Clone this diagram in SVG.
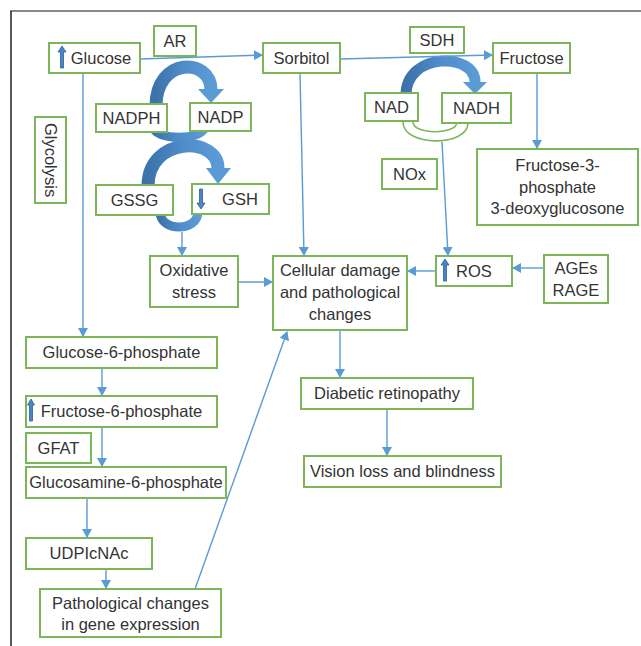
<svg xmlns="http://www.w3.org/2000/svg" width="641" height="646" viewBox="0 0 641 646">
<defs>
<style>
.box{fill:#fff;stroke:#7cb659;stroke-width:2}
.t{font-family:"Liberation Sans",Arial,sans-serif;font-size:16.5px;fill:#333;text-anchor:middle}
.c{fill:none;stroke:#5b9bd5;stroke-width:1.4}
.big{fill:none;stroke:url(#bg);stroke-width:13}
.cup{fill:none;stroke:url(#bg);stroke-width:9}
.gu{fill:none;stroke:#7cb659;stroke-width:1.6}
.head{fill:#5b9bd5}
.icon{fill:#4a86c5;stroke:#2e5f8f;stroke-width:0.8}
</style>
<linearGradient id="bg" x1="0" y1="0" x2="1" y2="0">
<stop offset="0" stop-color="#3c73aa"/>
<stop offset="0.5" stop-color="#4f8ccb"/>
<stop offset="1" stop-color="#5b9bd5"/>
</linearGradient>
<marker id="ah" markerWidth="10" markerHeight="10" refX="8" refY="5" orient="auto" markerUnits="userSpaceOnUse">
<path d="M0,0 L9,5 L0,10 z" fill="#5b9bd5"/>
</marker>
</defs>
<rect width="641" height="646" fill="#fff"/>
<!-- frame -->
<line x1="10" y1="11" x2="641" y2="11" stroke="#888" stroke-width="2"/>
<line x1="11" y1="11" x2="11" y2="646" stroke="#222" stroke-width="1.5"/>

<!-- thick cofactor arcs -->
<g id="cofactor-arcs">
<path class="cup" d="M153,126 C153,141 205,141 205,126"/>
<path class="big" d="M156,106 C156,57 211,57 211,90"/>
<polygon points="198,89 224,89 211,103" fill="#5b9bd5"/>
<path class="big" d="M148,186 C148,136 218,136 218,168"/>
<polygon points="206,168 231,168 218,184" fill="#5b9bd5"/>
<path class="cup" d="M160,212 C160,232 198,232 198,212"/>
<path class="big" style="stroke-width:11" d="M406,95 C406,52 475,52 475,82"/>
<polygon points="463,82 487,82 475,94" fill="#5b9bd5"/>
<path class="gu" d="M403,122 C403,147 468,147 468,123"/>
<path class="gu" d="M413,122 C413,135 457,135 457,122"/>
</g>

<!-- connectors -->
<g id="connectors">
<line class="c" x1="140" y1="59" x2="262" y2="55" marker-end="url(#ah)"/>
<line class="c" x1="340" y1="59" x2="492" y2="55" marker-end="url(#ah)"/>
<line class="c" x1="83" y1="73" x2="83" y2="336" marker-end="url(#ah)"/>
<line class="c" x1="300" y1="73" x2="304" y2="255" marker-end="url(#ah)"/>
<line class="c" x1="537" y1="73" x2="537" y2="148" marker-end="url(#ah)"/>
<line class="c" x1="442" y1="142" x2="448" y2="255" marker-end="url(#ah)"/>
<line class="c" x1="182" y1="232" x2="182" y2="255" marker-end="url(#ah)"/>
<line class="c" x1="238" y1="282" x2="272" y2="282" marker-end="url(#ah)"/>
<line class="c" x1="436" y1="271" x2="408" y2="271" marker-end="url(#ah)"/>
<line class="c" x1="544" y1="268" x2="513" y2="268" marker-end="url(#ah)"/>
<line class="c" x1="340" y1="330" x2="340" y2="377" marker-end="url(#ah)"/>
<line class="c" x1="387" y1="409" x2="387" y2="455" marker-end="url(#ah)"/>
<line class="c" x1="102" y1="368" x2="102" y2="395" marker-end="url(#ah)"/>
<line class="c" x1="102" y1="427" x2="102" y2="466" marker-end="url(#ah)"/>
<line class="c" x1="87" y1="498" x2="87" y2="537" marker-end="url(#ah)"/>
<line class="c" x1="106" y1="569" x2="106" y2="588" marker-end="url(#ah)"/>
<line class="c" x1="195" y1="589" x2="287" y2="332" marker-end="url(#ah)"/>
</g>

<!-- nodes -->
<g id="glucose"><rect class="box" x="49" y="43" width="91" height="30"/>
<path class="icon" d="M60.5,52 L58,52 L62,46 L66,52 L63.5,52 L63.5,68 L60.5,68 z"/>
<text class="t" x="101" y="64">Glucose</text></g>
<g id="ar"><rect class="box" x="154" y="26" width="42" height="30"/><text class="t" x="175" y="47">AR</text></g>
<g id="sorbitol"><rect class="box" x="263" y="43" width="77" height="30"/><text class="t" x="301.5" y="64">Sorbitol</text></g>
<g id="sdh"><rect class="box" x="410" y="27" width="54" height="26"/><text class="t" x="437" y="46">SDH</text></g>
<g id="fructose"><rect class="box" x="493" y="43" width="77" height="30"/><text class="t" x="531.5" y="64">Fructose</text></g>
<g id="nadph"><rect class="box" x="96" y="104" width="71" height="28"/><text class="t" x="131.5" y="124">NADPH</text></g>
<g id="nadp"><rect class="box" x="190" y="103" width="61" height="28"/><text class="t" x="220.5" y="123">NADP</text></g>
<g id="glycolysis"><rect class="box" x="35" y="117" width="31" height="86"/>
<text class="t" transform="translate(45,160) rotate(90)">Glycolysis</text></g>
<g id="gssg"><rect class="box" x="96" y="185" width="77" height="30"/><text class="t" x="134.5" y="206">GSSG</text></g>
<g id="gsh"><rect class="box" x="192" y="184" width="77" height="30"/>
<path class="icon" d="M199.5,189 L202.5,189 L202.5,203 L205,203 L201,209 L197,203 L199.5,203 z"/>
<text class="t" x="240" y="205">GSH</text></g>
<g id="nad"><rect class="box" x="365" y="93" width="53" height="28"/><text class="t" x="391.5" y="113">NAD</text></g>
<g id="nadh"><rect class="box" x="442" y="93" width="69" height="30"/><text class="t" x="476.5" y="114">NADH</text></g>
<g id="nox"><rect class="box" x="382" y="159" width="55" height="30"/><text class="t" x="409.5" y="180">NOx</text></g>
<g id="fructose3p"><rect class="box" x="477" y="149" width="161" height="76"/>
<text class="t" x="557.5" y="171">Fructose-3-</text>
<text class="t" x="557.5" y="192.5">phosphate</text>
<text class="t" x="557.5" y="214">3-deoxyglucosone</text></g>
<g id="oxidative"><rect class="box" x="150" y="256" width="88" height="51"/>
<text class="t" x="194" y="276">Oxidative</text>
<text class="t" x="194" y="298">stress</text></g>
<g id="cellular"><rect class="box" x="273" y="256" width="134" height="74"/>
<text class="t" x="340" y="276">Cellular damage</text>
<text class="t" x="340" y="298">and pathological</text>
<text class="t" x="340" y="320">changes</text></g>
<g id="ros"><rect class="box" x="436" y="256" width="76" height="30"/>
<path class="icon" d="M443.5,265 L441,265 L445,259 L449,265 L446.5,265 L446.5,281 L443.5,281 z"/>
<text class="t" x="474" y="277">ROS</text></g>
<g id="ages"><rect class="box" x="544" y="255" width="64" height="48"/>
<text class="t" x="576" y="274">AGEs</text>
<text class="t" x="576" y="296">RAGE</text></g>
<g id="retinopathy"><rect class="box" x="301" y="378" width="172" height="31"/><text class="t" x="387" y="399">Diabetic retinopathy</text></g>
<g id="vision"><rect class="box" x="304" y="456" width="197" height="31"/><text class="t" x="402.5" y="477">Vision loss and blindness</text></g>
<g id="g6p"><rect class="box" x="26" y="337" width="191" height="31"/><text class="t" x="121.5" y="358">Glucose-6-phosphate</text></g>
<g id="f6p"><rect class="box" x="26" y="396" width="191" height="31"/>
<path class="icon" d="M29.5,405 L27.5,405 L31,399 L34.5,405 L32.5,405 L32.5,421 L29.5,421 z"/>
<text class="t" x="121.5" y="417">Fructose-6-phosphate</text></g>
<g id="gfat"><rect class="box" x="26" y="433" width="65" height="30"/><text class="t" x="58.5" y="454">GFAT</text></g>
<g id="glucosamine"><rect class="box" x="26" y="467" width="200" height="31"/><text class="t" x="126" y="488">Glucosamine-6-phosphate</text></g>
<g id="udp"><rect class="box" x="26" y="538" width="126" height="31"/><text class="t" x="89" y="559">UDPIcNAc</text></g>
<g id="pathological"><rect class="box" x="40" y="589" width="181" height="48"/>
<text class="t" x="130.5" y="609">Pathological changes</text>
<text class="t" x="130.5" y="630">in gene expression</text></g>
</svg>
